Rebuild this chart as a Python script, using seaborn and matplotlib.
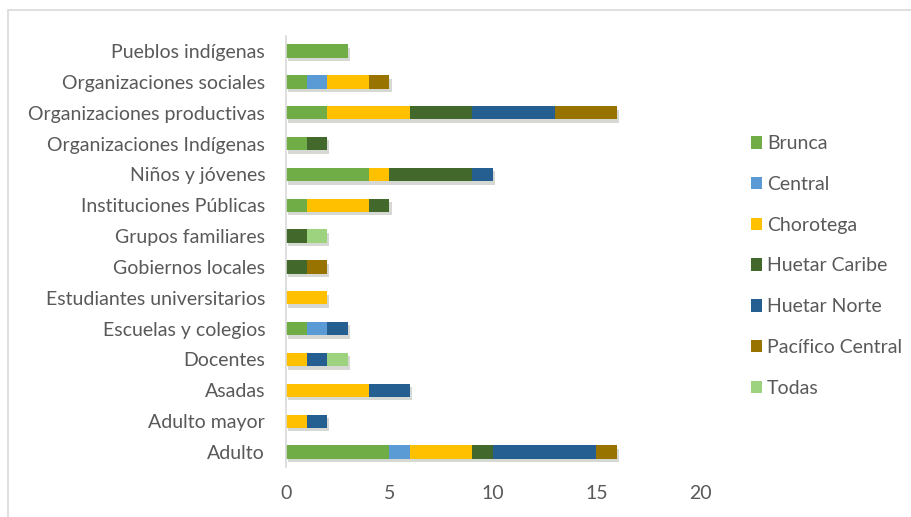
import numpy as np
import pandas as pd
import seaborn as sns
from matplotlib import pyplot as plt
from matplotlib.patches import Patch, Rectangle
import matplotlib.patheffects as pe

# Datos (de abajo hacia arriba en el gráfico original)
categorias = ['Adulto', 'Adulto mayor', 'Asadas', 'Docentes', 'Escuelas y colegios',
              'Estudiantes universitarios', 'Gobiernos locales', 'Grupos familiares',
              'Instituciones Públicas', 'Niños y jóvenes', 'Organizaciones Indígenas',
              'Organizaciones productivas', 'Organizaciones sociales', 'Pueblos indígenas']

regiones = ['Brunca', 'Central', 'Chorotega', 'Huetar Caribe', 'Huetar Norte',
            'Pacífico Central', 'Todas']

brunca = [5, 0, 0, 0, 1, 0, 0, 0, 1, 4, 1, 2, 1, 3]
central = [1, 0, 0, 0, 1, 0, 0, 0, 0, 0, 0, 0, 1, 0]
chorotega = [3, 1, 4, 1, 0, 2, 0, 0, 3, 1, 0, 4, 2, 0]
huetar_caribe = [1, 0, 0, 0, 0, 0, 1, 1, 1, 4, 1, 3, 0, 0]
huetar_norte = [5, 1, 2, 1, 1, 0, 0, 0, 0, 1, 0, 4, 0, 0]
pacifico_central = [1, 0, 0, 0, 0, 0, 1, 0, 0, 0, 0, 3, 1, 0]
todas = [0, 0, 0, 1, 0, 0, 0, 1, 0, 0, 0, 0, 0, 0]

colores = ['#70AD47', '#5B9BD5', '#FFC000', '#43682B', '#255E91', '#997300', '#9DD37F']

df = pd.DataFrame({
    'Categoria': categorias,
    'Brunca': brunca,
    'Central': central,
    'Chorotega': chorotega,
    'Huetar Caribe': huetar_caribe,
    'Huetar Norte': huetar_norte,
    'Pacífico Central': pacifico_central,
    'Todas': todas,
})
# orden de arriba hacia abajo para seaborn
df = df.iloc[::-1].reset_index(drop=True)
acumulado = df[regiones].cumsum(axis=1)

sns.set_theme(style='white')
plt.rcParams['font.family'] = ['Lato', 'DejaVu Sans']

fig = plt.figure(figsize=(9.12, 5.17), dpi=100)
ax = fig.add_axes([0.3136, 0.0959, 0.4539, 0.8352])

# barras apiladas: se dibuja el acumulado de mayor a menor
for i in range(len(regiones) - 1, -1, -1):
    sns.barplot(x=acumulado[regiones[i]], y=df['Categoria'], color=colores[i],
                orient='h', width=0.43, ax=ax, saturation=1, linewidth=0)
    if i == len(regiones) - 1:
        for barra in ax.patches:
            barra.set_path_effects([pe.SimplePatchShadow(offset=(1.5, -2.5), alpha=0.2),
                                    pe.Normal()])

ax.set_xlim(0, 20)
ax.set_xticks([0, 5, 10, 15, 20])
ax.set_xlabel('')
ax.set_ylabel('')
ax.tick_params(axis='x', length=0, pad=13, labelsize=14, labelcolor='#595959')
ax.tick_params(axis='y', length=0, pad=15, labelsize=14, labelcolor='#595959')
for lado in ['top', 'right', 'bottom']:
    ax.spines[lado].set_visible(False)
ax.spines['left'].set_color('#D9D9D9')
ax.spines['left'].set_linewidth(1.2)

handles = [Patch(facecolor=c, edgecolor='none', label=r) for r, c in zip(regiones, colores)]
leg = fig.legend(handles=handles, loc='center left', bbox_to_anchor=(0.8125, 0.4855),
                 frameon=False, fontsize=14, labelspacing=1.22, handlelength=0.6,
                 handleheight=0.6, handletextpad=0.25, borderpad=0)
for t in leg.get_texts():
    t.set_color('#595959')

# marco gris del gráfico (recortado a derecha y abajo)
fig.patches.append(Rectangle((8 / 912, -0.1), 1.2, 1 - 10 / 517 + 0.1, transform=fig.transFigure,
                             fill=False, edgecolor='#D9D9D9', linewidth=1.2))

fig.savefig('out.png', dpi=100)
